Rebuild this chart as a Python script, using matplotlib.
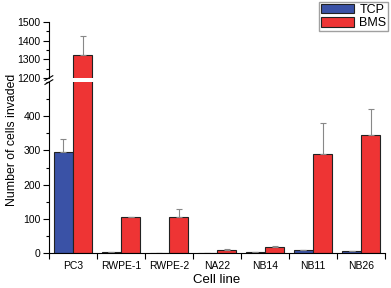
import numpy as np
import matplotlib.pyplot as plt
from matplotlib.ticker import MultipleLocator, FixedLocator, NullFormatter

plt.rcParams['font.family'] = ['Liberation Sans', 'DejaVu Sans']

# Daten
zellinien = ['PC3', 'RWPE-1', 'RWPE-2', 'NA22', 'NB14', 'NB11', 'NB26']
tcp = [295, 2, 0, 1, 2, 9, 5]
tcp_err = [38, 0, 0, 0, 0, 1, 1]
bms = [1325, 106, 104, 8, 18, 290, 345]
bms_err = [100, 0, 26, 3, 3, 90, 77]

blau = '#3a52a6'
rot = '#ee3434'
x = np.arange(len(zellinien))
b = 0.4

fig = plt.figure(figsize=(3.91, 2.88), dpi=100)
ax_o = fig.add_axes([0.125, 0.729, 0.86, 0.195])
ax_u = fig.add_axes([0.125, 0.1215, 0.86, 0.5935])

for ax in (ax_o, ax_u):
    ax.bar(x - b / 2, tcp, b, color=blau, edgecolor='#222222', linewidth=0.8,
           yerr=[[0] * len(tcp), tcp_err], ecolor='#888888', capsize=2.5,
           error_kw={'elinewidth': 0.8, 'capthick': 0.8}, label='TCP')
    ax.bar(x + b / 2, bms, b, color=rot, edgecolor='#222222', linewidth=0.8,
           yerr=[[0] * len(bms), bms_err], ecolor='#888888', capsize=2.5,
           error_kw={'elinewidth': 0.8, 'capthick': 0.8}, label='BMS')
    ax.set_xlim(-0.5, 6.5)
    ax.spines['top'].set_visible(False)
    ax.spines['right'].set_visible(False)
    ax.tick_params(axis='y', direction='out', length=4, width=0.8, labelsize=7.5, pad=2)
    ax.tick_params(axis='y', which='minor', direction='out', length=2, width=0.8)
    ax.yaxis.set_minor_locator(MultipleLocator(50))

ax_o.set_ylim(1200, 1500)
ax_o.yaxis.set_major_locator(MultipleLocator(100))
ax_o.spines['bottom'].set_visible(False)
ax_o.set_xticks([])

ax_u.set_ylim(0, 500)
ax_u.yaxis.set_major_locator(FixedLocator([0, 100, 200, 300, 400]))
ax_u.set_xticks(x)
ax_u.set_xticklabels(zellinien)
ax_u.tick_params(axis='x', which='major', length=0, labelsize=7.5, pad=6)
ax_u.xaxis.set_minor_locator(FixedLocator(np.arange(-0.5, 7, 1.0)))
ax_u.xaxis.set_minor_formatter(NullFormatter())
ax_u.tick_params(axis='x', which='minor', direction='out', length=4, width=0.8)
ax_u.set_xlabel('Cell line', fontsize=9.5, labelpad=2)

fig.text(0.03, 0.514, 'Number of cells invaded', rotation=90, fontsize=8.8,
         ha='center', va='center')

# Bruchzeichen an der y-Achse
for yy in (0.729, 0.715):
    fig.add_artist(plt.Line2D([0.115, 0.135], [yy - 0.008, yy + 0.008],
                              color='black', linewidth=0.8))

h, l = ax_u.get_legend_handles_labels()
fig.legend(h, l, loc='upper right', bbox_to_anchor=(0.993, 0.993), fontsize=9,
           frameon=True, fancybox=False, edgecolor='#888888',
           handlelength=2.7, handleheight=0.8, handletextpad=0.4,
           borderpad=0.15, labelspacing=0.1, borderaxespad=0)

plt.savefig('out.png', dpi=100)
